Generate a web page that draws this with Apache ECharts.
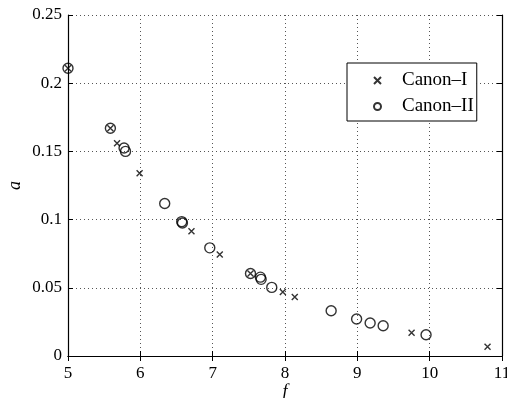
<!DOCTYPE html>
<html>
<head>
<meta charset="utf-8">
<script src="https://cdn.jsdelivr.net/npm/echarts@6/dist/echarts.min.js"></script>
<style>html,body{margin:0;padding:0;background:#fff}#c{width:507px;height:398px}</style>
</head>
<body>
<div id="c"></div>
<script>
var crossX = [5.0, 5.586, 5.678, 5.99, 6.707, 7.098, 7.523, 7.97, 8.135, 9.75, 10.80];
var crossY = [0.211, 0.167, 0.156, 0.134, 0.0915, 0.0744, 0.0605, 0.047, 0.0432, 0.0171, 0.0068];
var circleX = [5.0, 5.586, 5.775, 5.795, 6.337, 6.572, 6.582, 6.96, 7.523, 7.66, 7.67, 7.817, 8.638, 8.99, 9.177, 9.357, 9.95];
var circleY = [0.211, 0.167, 0.1525, 0.150, 0.1118, 0.0985, 0.0975, 0.0793, 0.0605, 0.0578, 0.0562, 0.0503, 0.0332, 0.0271, 0.0242, 0.0222, 0.0156];
var xTicks = ['5', '6', '7', '8', '9', '10', '11'];
var yTicks = ['0', '0.05', '0.1', '0.15', '0.2', '0.25'];
var seriesNames = ['Canon\u2013I', 'Canon\u2013II'];

function zip(a, b) { return a.map(function (v, i) { return [v, b[i]]; }); }

var font = 'Liberation Serif, Times New Roman, serif';
var chart = echarts.init(document.getElementById('c'), null, {renderer: 'canvas'});
var tickStyle = {inside: true, length: 5, lineStyle: {color: '#000', width: 1}};
var split = {show: true, lineStyle: {color: '#555', type: [1, 3], width: 1}};
chart.setOption({
  animation: false,
  backgroundColor: '#fff',
  grid: {left: 68, right: 5, top: 15, bottom: 42, containLabel: false, outerBoundsMode: 'none'},
  xAxis: [{
    type: 'value', min: 5, max: 11, interval: 1, position: 'bottom',
    axisLine: {lineStyle: {color: '#000', width: 1.2}},
    axisTick: tickStyle, splitLine: split,
    axisLabel: {color: '#000', fontFamily: font, fontSize: 17, margin: 9,
      formatter: function (v) { return xTicks[Math.round(v - 5)]; }},
    name: 'f', nameLocation: 'middle', nameGap: 27, nameMoveOverlap: false,
    nameTextStyle: {fontFamily: font, fontStyle: 'italic', fontSize: 18, color: '#000'}
  }, {
    type: 'value', min: 5, max: 11, interval: 1, position: 'top',
    axisLine: {lineStyle: {color: '#000', width: 1.2}},
    axisTick: tickStyle, splitLine: {show: false}, axisLabel: {show: false}
  }],
  yAxis: [{
    type: 'value', min: 0, max: 0.25, interval: 0.05, position: 'left',
    axisLine: {show: true, lineStyle: {color: '#000', width: 1.2}},
    axisTick: Object.assign({show: true}, tickStyle), splitLine: split,
    axisLabel: {color: '#000', fontFamily: font, fontSize: 17, margin: 6,
      formatter: function (v) { return yTicks[Math.round(v / 0.05)]; }},
    name: 'a', nameLocation: 'middle', nameGap: 44, nameRotate: 90, nameMoveOverlap: false,
    nameTextStyle: {fontFamily: font, fontStyle: 'italic', fontSize: 18, color: '#000'}
  }, {
    type: 'value', min: 0, max: 0.25, interval: 0.05, position: 'right',
    axisLine: {show: true, lineStyle: {color: '#000', width: 1.2}},
    axisTick: Object.assign({show: true}, tickStyle), splitLine: {show: false}, axisLabel: {show: false}
  }],
  legend: {
    left: 347, top: 63, orient: 'vertical',
    backgroundColor: '#fff', borderColor: '#000', borderWidth: 1,
    padding: [8, 3, 5, 26], itemWidth: 7, itemHeight: 7, itemGap: 7,
    textStyle: {fontFamily: font, fontSize: 19, color: '#000', lineHeight: 16, padding: [0, 0, 0, 16]},
    data: seriesNames
  },
  series: [{
    name: seriesNames[1], type: 'scatter', clip: false,
    symbol: 'circle', symbolSize: 10,
    itemStyle: {color: 'rgba(0,0,0,0)', borderColor: '#000', borderWidth: 1.4},
    data: zip(circleX, circleY), z: 3
  }, {
    name: seriesNames[0], type: 'scatter', clip: false,
    symbol: 'path://M0,0L10,10M10,0L0,10', symbolSize: 6,
    itemStyle: {color: 'rgba(0,0,0,0)', borderColor: '#000', borderWidth: 1.4},
    data: zip(crossX, crossY), z: 4
  }]
});
</script>
</body>
</html>
